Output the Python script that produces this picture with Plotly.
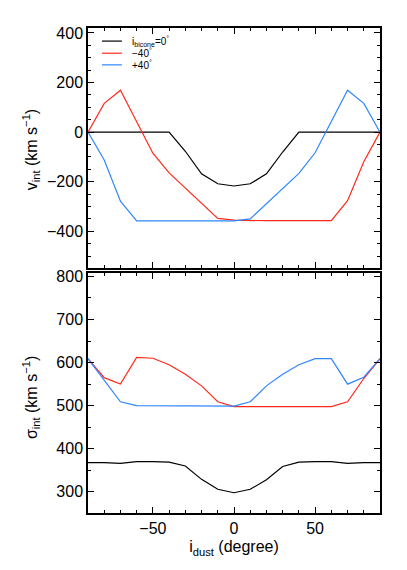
import plotly.graph_objects as go
from plotly.subplots import make_subplots

# ---- data ----
i_dust = [-90, -80, -70, -60, -50, -40, -30, -20, -10, 0, 10, 20, 30, 40, 50, 60, 70, 80, 90]

v_bicone_0 = [0, 0, 0, 0, 0, 0, -77, -168, -208, -217, -208, -168, -80, 0, 0, 0, 0, 0, 0]
v_bicone_m40 = [0, 116, 169, 42, -85, -164, -225, -287, -348, -355, -357, -357, -357, -357, -357, -357, -276, -119, 0]
v_bicone_p40 = [0, -112, -278, -358, -358, -358, -358, -358, -358, -358, -350, -288, -228, -166, -83, 42, 169, 116, 0]

s_bicone_0 = [368, 368, 366, 370, 370, 369, 360, 329, 306, 298, 306, 328, 359, 369, 370, 370, 366, 368, 368]
s_bicone_m40 = [609, 565, 550, 612, 610, 595, 573, 546, 509, 498, 498, 498, 498, 498, 498, 498, 509, 563, 609]
s_bicone_p40 = [609, 560, 509, 500, 500, 500, 500, 500, 500, 499, 509, 546, 573, 595, 609, 609, 550, 566, 609]

series_names = ["i<sub>bicone</sub>=0<sup>°</sup>", "−40<sup>°</sup>", "+40<sup>°</sup>"]
series_colors = ["#000000", "#FF2A1A", "#2F86FF"]

x_ticks = [-50, 0, 50]
v_ticks = [400, 200, 0, -200, -400]
s_ticks = [800, 700, 600, 500, 400, 300]

FONT = "Liberation Sans, Arial, sans-serif"

# ---- figure ----
fig = make_subplots(rows=2, cols=1, shared_xaxes=False, vertical_spacing=0.0)

v_data = [v_bicone_0, v_bicone_m40, v_bicone_p40]
s_data = [s_bicone_0, s_bicone_m40, s_bicone_p40]

for name, col, v in zip(series_names, series_colors, v_data):
    fig.add_trace(go.Scatter(x=i_dust, y=v, mode="lines", name=name,
                             line=dict(color=col, width=1.2), legendgroup=name,
                             showlegend=False),
                  row=1, col=1)
for name, col, s in zip(series_names, series_colors, s_data):
    fig.add_trace(go.Scatter(x=i_dust, y=s, mode="lines", name=name,
                             line=dict(color=col, width=1.2), legendgroup=name,
                             showlegend=False),
                  row=2, col=1)

axis_common = dict(showline=True, linewidth=1.5, linecolor="black", mirror="allticks",
                   ticks="inside", ticklen=6, tickwidth=1.2, tickcolor="black",
                   showgrid=False, zeroline=False,
                   tickfont=dict(family=FONT, size=16, color="black"))

fig.update_xaxes(range=[-90, 90], tickvals=x_ticks,
                 ticktext=[str(t).replace("-", "−") for t in x_ticks],
                 minor=dict(dtick=10, ticks="inside", ticklen=3, tickcolor="black", showgrid=False),
                 **axis_common)
fig.update_xaxes(showticklabels=False, row=1, col=1)
fig.update_xaxes(title=dict(text="i<sub>dust</sub> (degree)", standoff=5,
                            font=dict(family=FONT, size=16, color="black")),
                 row=2, col=1)

fig.update_yaxes(**axis_common)
fig.update_yaxes(range=[-548, 420], tickvals=v_ticks,
                 ticktext=[str(t).replace("-", "−") for t in v_ticks],
                 minor=dict(dtick=50, tick0=0, ticks="inside", ticklen=3, tickcolor="black", showgrid=False),
                 domain=[0.505, 1.0], row=1, col=1)
fig.update_yaxes(range=[251, 808], tickvals=s_ticks,
                 minor=dict(dtick=50, tick0=0, ticks="inside", ticklen=3, tickcolor="black", showgrid=False),
                 domain=[0.0, 0.495], row=2, col=1)

# y-axis titles (placed as rotated annotations for exact positioning)
for txt, yc in [("v<sub>int</sub> (km s<sup>−1</sup>)", 0.748),
                ("σ<sub>int</sub> (km s<sup>−1</sup>)", 0.237)]:
    fig.add_annotation(text=txt, xref="paper", yref="paper", x=-0.195, y=yc,
                       xanchor="center", yanchor="middle", textangle=-90, showarrow=False,
                       font=dict(family=FONT, size=16, color="black"))

# legend drawn inside the top panel
leg_y = [0.973, 0.948, 0.924]
for name, col, ly in zip(series_names, series_colors, leg_y):
    fig.add_shape(type="line", xref="paper", yref="paper", x0=0.048, x1=0.116, y0=ly, y1=ly,
                  line=dict(color=col, width=1.2))
    fig.add_annotation(text=name, xref="paper", yref="paper", x=0.145, y=ly,
                       xanchor="left", yanchor="middle", showarrow=False,
                       font=dict(family=FONT, size=10, color="black"))

fig.update_layout(
    width=407, height=570,
    margin=dict(l=88, r=27, t=28, b=57),
    paper_bgcolor="white", plot_bgcolor="white",
    font=dict(family=FONT, color="black"),
    showlegend=False,
)

fig.write_html("out.html", config={"displayModeBar": False},
               post_script="document.body.style.margin='0';")
